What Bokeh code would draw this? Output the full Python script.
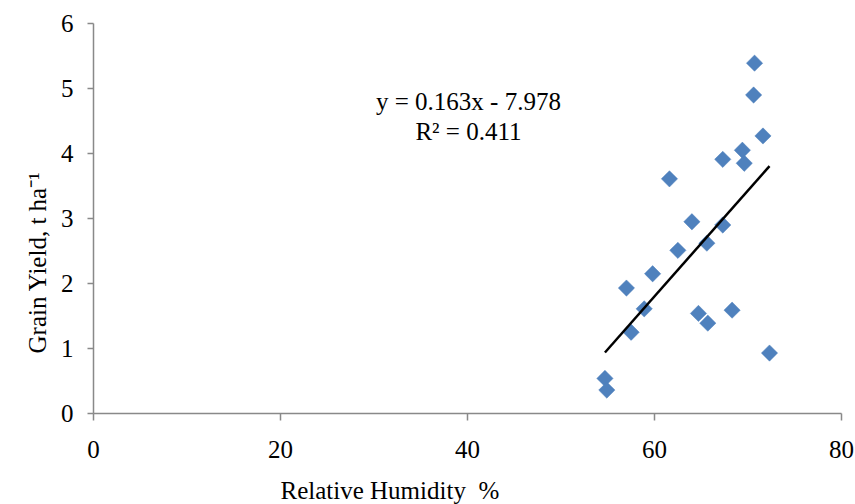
import numpy as np
from bokeh.plotting import figure
from bokeh.models import ColumnDataSource, Label, FixedTicker, Range1d, Title
from bokeh.embed import file_html
from bokeh.resources import INLINE

# ---- data ----
humidity = [70.7, 70.6, 71.6, 69.4, 69.6, 67.3, 61.6, 64.0, 67.3, 62.5, 65.6,
            59.8, 57.0, 58.9, 57.5, 64.7, 65.7, 68.3, 72.3, 54.7, 54.9]
grain_yield = [5.39, 4.90, 4.27, 4.05, 3.85, 3.91, 3.61, 2.95, 2.90, 2.51, 2.62,
               2.15, 1.93, 1.61, 1.25, 1.54, 1.39, 1.59, 0.93, 0.54, 0.36]
trend_slope = 0.163
trend_intercept = -7.978
r_squared = 0.411
x_ticks = [0, 20, 40, 60, 80]
y_ticks = [0, 1, 2, 3, 4, 5, 6]
x_title = "Relative Humidity \u00a0%"
y_title = "Grain Yield, t ha\u207b\u00b9"

FONT = "Liberation Serif"

p = figure(width=855, height=504, output_backend="svg", toolbar_location=None,
           x_range=Range1d(0, 80), y_range=Range1d(0, 6),
           min_border_left=93, min_border_right=14, min_border_top=23,
           min_border_bottom=91)
p.outline_line_color = None
p.background_fill_color = "white"
p.border_fill_color = "white"
p.xgrid.grid_line_color = None
p.ygrid.grid_line_color = None

for ax in (p.xaxis, p.yaxis):
    ax.axis_line_color = "#898989"
    ax.axis_line_width = 1.5
    ax.major_tick_line_color = "#898989"
    ax.major_tick_line_width = 1.5
    ax.minor_tick_line_color = None
    ax.major_tick_in = 0
    ax.major_label_text_font = FONT
    ax.major_label_text_font_size = "25px"
    ax.major_label_text_color = "black"

p.xaxis.ticker = FixedTicker(ticks=x_ticks)
p.yaxis.ticker = FixedTicker(ticks=y_ticks)
p.xaxis.major_tick_out = 7
p.yaxis.major_tick_out = 6
p.xaxis.major_label_standoff = 20
p.yaxis.major_label_standoff = 14
# blank spacer below the tick labels so the title sits low, as in the reference
p.xaxis.axis_label = " "
p.xaxis.axis_label_text_font_size = "1px"
p.xaxis.axis_label_standoff = 10

# scatter points
src = ColumnDataSource(dict(x=humidity, y=grain_yield))
p.scatter("x", "y", source=src, marker="square", size=11.5, angle=np.pi / 4,
          fill_color="#4F81BD", line_color="#4F81BD", line_width=0.5)

# linear trendline over data range
xs = np.array([min(humidity), max(humidity)])
ys = trend_slope * xs + trend_intercept
p.line(xs, ys, line_color="black", line_width=2.5)

# equation text
eq1 = f"y = {trend_slope:.3f}x - {abs(trend_intercept):.3f}"
eq2 = f"R\u00b2 = {r_squared:.3f}"
p.add_layout(Label(x=40.1, y=4.80, text=eq1, text_align="center",
                   text_baseline="alphabetic", text_font=FONT,
                   text_font_size="25px", text_color="black"))
p.add_layout(Label(x=40.1, y=4.34, text=eq2, text_align="center",
                   text_baseline="alphabetic", text_font=FONT,
                   text_font_size="25px", text_color="black"))

# axis titles (positioned as in the reference)
p.add_layout(Title(text=x_title, align="left", offset=187, standoff=0,
                   text_font=FONT, text_font_size="25px",
                   text_font_style="normal", text_color="black"), "below")
p.add_layout(Title(text=y_title, align="left", offset=60, standoff=14,
                   text_font=FONT, text_font_size="25px",
                   text_font_style="normal", text_color="black"), "left")

open("out.html", "w").write(file_html(p, INLINE))
